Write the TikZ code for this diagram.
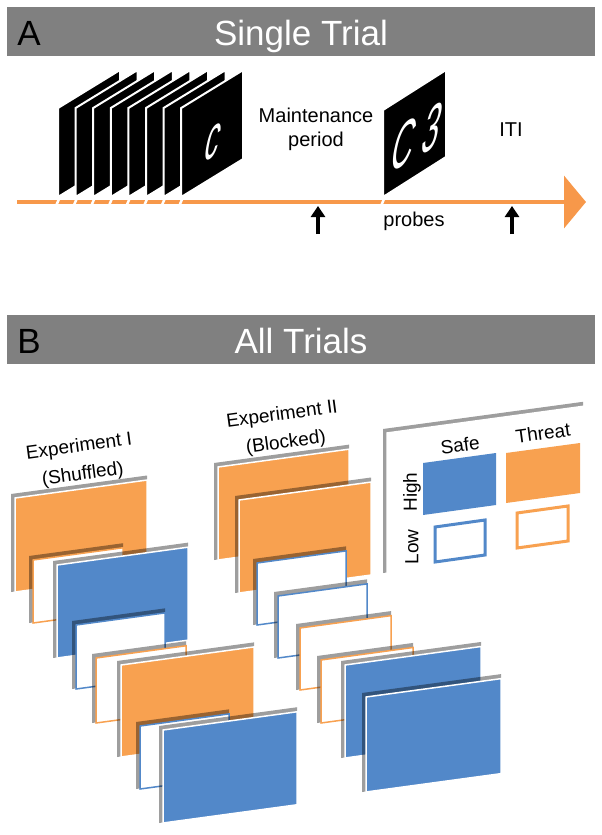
\documentclass[tikz,border=0pt]{standalone}
\usepackage{fontspec}
\setmainfont{Liberation Sans}
\usetikzlibrary{arrows.meta}

\definecolor{lineorange}{RGB}{247,152,74}
\definecolor{threatorange}{RGB}{248,161,80}
\definecolor{safeblue}{RGB}{82,136,201}
\definecolor{bargray}{RGB}{128,128,128}

\tikzset{
  bar/.style={fill=bargray},
  barletter/.style={font=\fontsize{35}{40}\selectfont, anchor=base},
  bartitle/.style={font=\fontsize{35}{40}\selectfont, anchor=base, text=white},
  lbl/.style={font=\fontsize{20}{24}\selectfont, align=center},
  explbl/.style={font=\fontsize{19}{28}\selectfont, align=center, rotate=7.7},
  stim/.style={fill=black, draw=white, line width=2pt, line join=miter},
  stimtext/.style={text=white, cm={0.45,0.27,0.2,1,(0,0)}},
  cut/.style={draw=white, line width=2.5pt},
  timeline/.style={draw=lineorange, line width=4pt, -{Triangle[width=52pt,length=22pt]}},
  pointer/.style={line width=4pt, -{Triangle[width=14pt,length=11pt]}},
  cardshadow/.style={fill=black, fill opacity=0.38},
  hithreat/.style={fill=threatorange, draw=white, line width=1.5pt},
  hisafe/.style={fill=safeblue, draw=white, line width=1.5pt},
  lothreat/.style={fill=white, draw=threatorange, line width=1.5pt},
  losafe/.style={fill=white, draw=safeblue, line width=1.5pt},
  keybox/.style={fill=white, draw=white, line width=1.5pt},
}

% one tilted card with its drop shadow: x, y (top left), width, height, style
\newcommand{\cardat}[5]{%
  \fill[cardshadow] (#1-4,#2-4) -- ++(#3+4,{-0.136*(#3+4)}) -- ++(0,#4+4) -- (#1-4,#2+#4) -- cycle;
  \draw[#5] (#1,#2) -- ++(#3,{-0.136*#3}) -- ++(0,#4) -- ++(-#3,{0.136*#3}) -- cycle;
}

\begin{document}
\begin{tikzpicture}[x=1pt,y=-1pt]
  \useasboundingbox (0,0) rectangle (602,835);

  % A: single trial
  \fill[bar] (7,7) rectangle (595,56);
  \node[barletter] (letA) at (29,45) {A};
  \node[bartitle] (titleA) at (301,45) {Single Trial};

  \coordinate (tstart) at (17,202);
  \coordinate (tend) at (586,202);
  \draw[timeline] (tstart) -- (tend);

  \foreach \i in {0,...,7} {
    \draw[stim] ({58+17.6*\i},197) -- ++(0,-89) -- ++(62,-38) -- ++(0,89) -- cycle;
    \draw[cut] ({59+17.6*\i},199) -- ++(-3,7);
  }
  \node[stimtext, font=\fontsize{64}{64}\selectfont] (memc) at (213,142) {c};

  \draw[stim] (383,197) -- ++(0,-87) -- ++(63,-40) -- ++(0,87) -- cycle;
  \draw[cut] (384,199) -- ++(-3,7);
  \node[stimtext, font=\fontsize{68}{68}\selectfont] (probec) at (417,137) {C 3};

  \node[lbl] (maint) at (316,129) {Maintenance\\period};
  \node[lbl, anchor=base] (probes) at (414,226) {probes};
  \node[lbl, anchor=base] (iti) at (511,136) {ITI};

  \coordinate (mtail) at (318,234);
  \coordinate (mtip) at (318,206);
  \coordinate (itail) at (512,234);
  \coordinate (itip) at (512,206);
  \draw[pointer] (mtail) -- (mtip);
  \draw[pointer] (itail) -- (itip);

  % B: all trials
  \fill[bar] (7,315) rectangle (595,364);
  \node[barletter] (letB) at (29,353) {B};
  \node[bartitle] (titleB) at (301,353) {All Trials};

  \node[explbl] (expI) at (81,461) {Experiment I\\(Shuffled)};
  \node[explbl] (expII) at (284,429) {Experiment II\\(Blocked)};

  % shuffled column
  \foreach \x/\y/\w/\h/\s in {15/498/132/94/hithreat, 33/560/90/63/lothreat,
      57/565/131/93/hisafe, 76/625/89/64/losafe, 96/658/90/65/lothreat,
      121/665/133/92/hithreat, 140/726/89/63/losafe, 163/730/134/93/hisafe}
    \cardat{\x}{\y}{\w}{\h}{\s};

  % blocked column
  \foreach \x/\y/\w/\h/\s in {218/467/131/93/hithreat, 239/500/132/93/hithreat,
      257/563/89/62/losafe, 278/596/89/62/losafe, 300/628/91/62/lothreat,
      321/660/92/63/lothreat, 345/665/136/93/hisafe, 366/697/135/95/hisafe}
    \cardat{\x}{\y}{\w}{\h}{\s};

  % key
  \cardat{387}{433}{196}{140}{keybox}
  \fill[safeblue] (423,463) -- ++(73,-10) -- ++(0,52) -- ++(-73,10) -- cycle;
  \fill[threatorange] (506,453) -- ++(74,-10) -- ++(0,50) -- ++(-74,10) -- cycle;
  \draw[safeblue, line width=3pt] (435,527) -- ++(50,-7) -- ++(0,35) -- ++(-50,7) -- cycle;
  \draw[threatorange, line width=3pt] (517,513) -- ++(51,-7) -- ++(0,35) -- ++(-51,7) -- cycle;
  \node[explbl] (safe) at (460,445) {Safe};
  \node[explbl] (threat) at (543,433) {Threat};
  \node[explbl, rotate=82.3] (high) at (412,492) {High};
  \node[explbl, rotate=82.3] (low) at (412,547) {Low};
\end{tikzpicture}
\end{document}
